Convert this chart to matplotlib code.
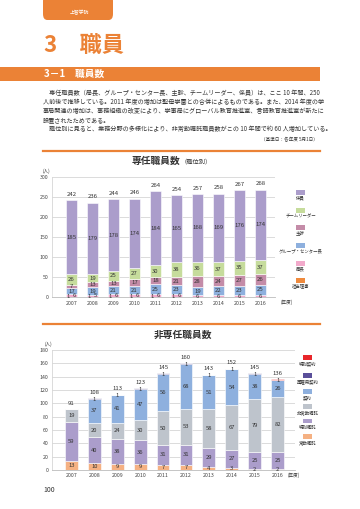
import matplotlib
matplotlib.use('Agg')
import matplotlib.pyplot as plt
from matplotlib.patches import Rectangle, FancyBboxPatch
import numpy as np

plt.rcParams['font.family'] = ['Noto Sans CJK JP', 'DejaVu Sans']

W, H = 360, 509
ORANGE = '#eb8236'
TXT = '#333333'

years = ['2007', '2008', '2009', '2010', '2011', '2012', '2013', '2014', '2015', '2016']

# 専任職員数（職位別）
riji = [1, 1, 1, 1, 1, 1, 0, 0, 0, 0]
kyokucho = [6, 5, 6, 6, 6, 6, 6, 6, 6, 6]
group_cho = [17, 19, 21, 21, 25, 23, 19, 22, 23, 25]
shukan = [7, 13, 13, 17, 18, 21, 28, 24, 27, 26]
leader = [26, 19, 25, 27, 30, 38, 36, 37, 35, 37]
kakari = [185, 179, 178, 174, 184, 165, 168, 169, 176, 174]
names1 = ['担当理事', '局長', 'グループ・センター長', '主幹', 'チームリーダー', '係員']
colors1 = ['#ef8a3d', '#f2aacb', '#8eb0de', '#c48ca8', '#c6dc9c', '#ab9dcb']

# 非専任職員数
jokin = [13, 10, 9, 9, 7, 7, 4, 3, 2, 2]
toku_shokutaku = [59, 40, 38, 36, 31, 31, 29, 27, 25, 25]
hijokin = [19, 20, 24, 30, 50, 53, 58, 67, 79, 82]
keiyaku = [0, 37, 41, 47, 56, 68, 51, 54, 38, 26]
saikoyo = [0, 1, 1, 1, 1, 1, 1, 1, 1, 0]
toku_keiyaku = [0, 0, 0, 0, 0, 0, 0, 0, 0, 1]
names2 = ['常勤嘱託', '特別嘱託', '非常勤嘱託', '契約', '再雇用契約', '特別契約']
colors2 = ['#f5b183', '#ab9dcb', '#bec4cc', '#8eb0de', '#5a4f9a', '#e8262b']


def fx(px):
    return px / W


def fy(py):
    return 1 - py / H


fig = plt.figure(figsize=(3.6, 5.09), dpi=100)

# header tab
fig.add_artist(FancyBboxPatch((fx(43), fy(20)), fx(113) - fx(43), fy(-5) - fy(20),
                              boxstyle='round,pad=0,rounding_size=0.012',
                              transform=fig.transFigure, fc=ORANGE, ec='none'))
fig.text(fx(79), fy(13), '上智学院', color='white', fontsize=3.5, ha='center', va='center')

fig.text(fx(44), fy(45), '3　職員', color=ORANGE, fontsize=16, fontweight='bold', va='center')

# section band
fig.add_artist(Rectangle((0, fy(80.5)), fx(320), fy(66.5) - fy(80.5),
                         transform=fig.transFigure, fc=ORANGE, ec='none'))
fig.text(fx(44), fy(73.5), '3－1　職員数', color='white', fontsize=7, fontweight='bold', va='center')

body = [
    '　専任職員数（局長、グループ・センター長、主幹、チームリーダー、係員）は、ここ 10 年間、250',
    '人前後で推移している。2011 年度の増加は聖母学園との合併によるものである。また、2014 年度の学',
    '事局関連の増加は、事務組織の改変により、学事局にグローバル教育推進室、言語教育推進室が新たに',
    '設置されたためである。',
    '　職位別に見ると、業務分野の多様化により、非常勤嘱託職員数がこの 10 年間で約 60 人増加している。',
]
for i, line in enumerate(body):
    fig.text(fx(43), fy(93 + 9 * i), line, fontsize=4.4, color=TXT, va='center')
fig.text(fx(318), fy(140), '（基準日：各年度 5月1日）', fontsize=3.3, color=TXT, ha='right', va='center')

for yy in (150.5, 324):
    fig.add_artist(plt.Line2D([fx(43), fx(320)], [fy(yy), fy(yy)], transform=fig.transFigure,
                              color=ORANGE, lw=1.6))


def stacked(ax, series, colors, totals, ymax, step, xlim):
    x = np.arange(len(years))
    bottom = np.zeros(len(years))
    for vals, c in zip(series, colors):
        vals = np.array(vals, dtype=float)
        ax.bar(x, vals, 0.56, bottom=bottom, color=c, edgecolor='white', linewidth=0.4, zorder=3)
        bottom += vals
    for xi, t in zip(x, totals):
        ax.annotate(str(t), (xi, t), xytext=(0, 2.5), textcoords='offset points',
                    ha='center', va='bottom', fontsize=4.3, color=TXT)
    ax.set_ylim(0, ymax)
    ax.set_xlim(*xlim)
    ax.set_yticks(np.arange(0, ymax + 1, step))
    ax.set_xticks(x)
    ax.set_xticklabels(years)
    ax.tick_params(length=0, labelsize=3.8, colors='#444444', pad=2.5)
    ax.grid(axis='y', color='#d6d6d6', lw=0.6, zorder=0)
    for s in ('top', 'right'):
        ax.spines[s].set_visible(False)
    ax.spines['left'].set_color('#d6d6d6')
    ax.spines['bottom'].set_color('#bbbbbb')
    ax.spines['left'].set_linewidth(0.6)
    ax.spines['bottom'].set_linewidth(0.6)


# chart 1
ax1 = fig.add_axes([fx(52), fy(297.3), fx(275) - fx(52), fy(177) - fy(297.3)])
series1 = [riji, kyokucho, group_cho, shukan, leader, kakari]
totals1 = [sum(v) for v in zip(*series1)]
stacked(ax1, series1, colors1, totals1, 300, 50, (-0.93, 9.69))
for i in range(len(years)):
    base = riji[i] + kyokucho[i]
    if riji[i]:
        ax1.text(i - 0.16, 1.5, str(riji[i]), fontsize=4.2, ha='center', va='center', color=TXT, zorder=5)
        ax1.text(i + 0.14, 3.5, str(kyokucho[i]), fontsize=4.2, ha='center', va='center', color=TXT, zorder=5)
    else:
        ax1.text(i, 3.2, str(kyokucho[i]), fontsize=4.2, ha='center', va='center', color=TXT, zorder=5)
    b = base
    for vals in (group_cho, shukan, leader, kakari):
        ax1.text(i, b + vals[i] / 2, str(vals[i]), fontsize=4.3, ha='center', va='center', color=TXT, zorder=5)
        b += vals[i]
fig.text(fx(43), fy(171), '(人)', fontsize=3.3, color=TXT, va='center')
fig.text(fx(287), fy(302.5), '(年度)', fontsize=3.3, color=TXT, va='center', ha='center')
fig.text(fx(180), fy(160.5), '専任職員数', fontsize=7, fontweight='bold', color=TXT, ha='right', va='center')
fig.text(fx(181), fy(161), '（職位別）', fontsize=4.5, color=TXT, ha='left', va='center')

leg1_y = [190, 207.5, 225, 242.5, 260.5, 278]
for name, c, py in zip(names1[::-1], colors1[::-1], leg1_y):
    fig.add_artist(Rectangle((fx(296), fy(py + 5)), fx(9), fy(0) - fy(5), transform=fig.transFigure,
                             fc=c, ec='none'))
    fig.text(fx(300.5), fy(py + 8), name, fontsize=3.2, color=TXT, ha='center', va='center')

# chart 2
ax2 = fig.add_axes([fx(52), fy(470), fx(295) - fx(52), fy(350) - fy(470)])
series2 = [jokin, toku_shokutaku, hijokin, keiyaku, saikoyo, toku_keiyaku]
totals2 = [sum(v) for v in zip(*series2)]
stacked(ax2, series2, colors2, totals2, 180, 20, (-0.85, 9.76))
for i in range(len(years)):
    b = 0
    for k, vals in enumerate(series2):
        v = vals[i]
        if v:
            yy = b + v / 2
            if k >= 4:
                yy = b - 0.6
            ax2.text(i, yy, str(v), fontsize=4.2, ha='center', va='center', color=TXT, zorder=5)
        b += v
fig.text(fx(45), fy(344), '(人)', fontsize=3.3, color=TXT, va='center')
fig.text(fx(294), fy(475.5), '(年度)', fontsize=3.3, color=TXT, va='center', ha='center')
fig.text(fx(183), fy(334.5), '非専任職員数', fontsize=7, fontweight='bold', color=TXT, ha='center', va='center')

leg2_y = [355, 373, 389, 404, 418.5, 434]
for name, c, py in zip(names2[::-1], colors2[::-1], leg2_y):
    fig.add_artist(Rectangle((fx(303), fy(py + 4.5)), fx(9), fy(0) - fy(4.5), transform=fig.transFigure,
                             fc=c, ec='none'))
    fig.text(fx(307.5), fy(py + 9), name, fontsize=3.2, color=TXT, ha='center', va='center')

fig.text(fx(43), fy(490), '100', fontsize=5, color=TXT, va='center')

fig.savefig('out.png', dpi=100)
